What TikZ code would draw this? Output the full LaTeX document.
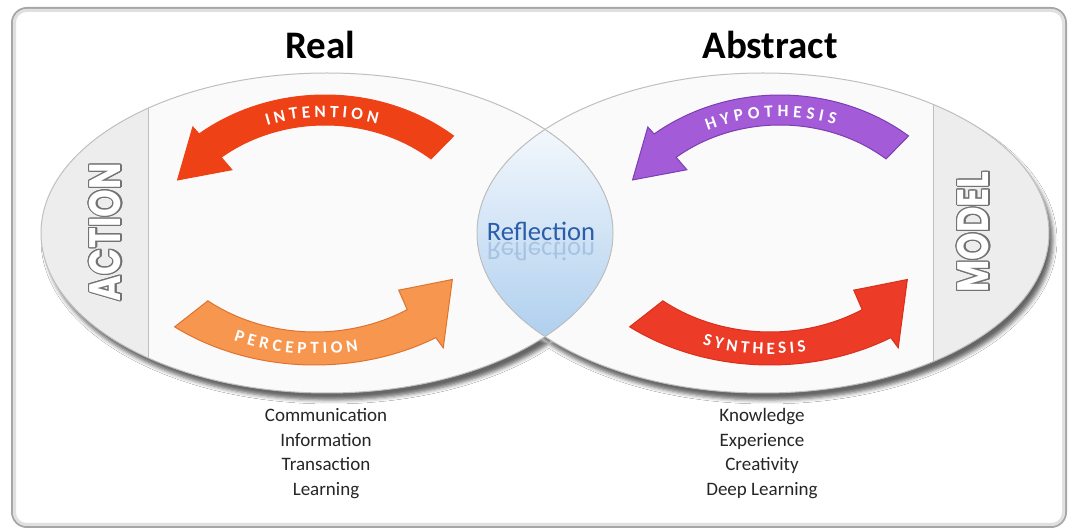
\documentclass[tikz,border=0pt]{standalone}
\usepackage{fontspec}
\setmainfont{Carlito}
\setsansfont{Carlito}
\newfontfamily\geofont{Poppins}
\usepackage[copies]{contour}
\usepackage{tikz}
\usetikzlibrary{decorations.text,shadows.blur}

\definecolor{intentred}{HTML}{EE4216}
\definecolor{hypopurple}{HTML}{A35BD8}
\definecolor{hypoedge}{HTML}{7D3DB3}
\definecolor{percorange}{HTML}{F7974F}
\definecolor{percedge}{HTML}{DE7330}
\definecolor{synthred}{HTML}{EC3B26}
\definecolor{synthedge}{HTML}{D9301E}
\definecolor{reflblue}{HTML}{2B5DA8}
\definecolor{lenstop}{HTML}{F4F8FD}
\definecolor{lensblue}{HTML}{AECFEE}
\definecolor{lobefill}{HTML}{FAFAFA}
\definecolor{bandgray}{HTML}{EDEDED}

\newcommand\arrowlabelfont{\fontsize{8.6}{10}\selectfont\bfseries}
\contourlength{0.65pt}

\begin{document}
\begin{tikzpicture}[
  x=0.5pt, y=0.5pt,
  panel/.style={draw=black!35, line width=1pt, rounded corners=7.5pt, fill=white},
  lobeline/.style={draw=black!25, line width=0.5pt},
  heading/.style={font=\fontsize{19.5}{20}\selectfont\bfseries, text=black},
  sidelabel/.style={rotate=90, xscale=.8, text=white, font=\geofont\bfseries\fontsize{22}{22}\selectfont},
  listing/.style={align=center, font=\fontsize{9.5}{12.25}\selectfont, text=black!85},
  refltext/.style={text=reflblue, font=\fontsize{13.3}{14}\selectfont, anchor=base, inner sep=0pt},
  bigarrow/.style={line width=0.5pt, line join=miter},
  arrowtext/.style={decorate, decoration={text along path, text align={fit to path}, text color=white, text={#1}}}
]
\useasboundingbox (0,0) rectangle (1073,531);

% outer panel
\draw[panel] (12,4) rectangle (1066,523);
\draw[black!12, line width=1.5pt, rounded corners=6pt] (14.5,6.5) rectangle (1063.5,520.5);

% the two lobes, shadow first so the fills cover it
\path[blur shadow={shadow xshift=2pt, shadow yshift=-3.5pt, shadow blur radius=2pt, shadow opacity=60}]
  (327,298) ellipse [x radius=286, y radius=160]
  (763,298) ellipse [x radius=286, y radius=160];
\fill[lobefill] (327,298) ellipse [x radius=286, y radius=160];
\fill[lobefill] (763,298) ellipse [x radius=286, y radius=160];

% grey side bands
\begin{scope}
  \clip (327,298) ellipse [x radius=286, y radius=160];
  \fill[bandgray] (0,0) rectangle (148,531);
  \draw[lobeline] (148,0) -- (148,531);
\end{scope}
\begin{scope}
  \clip (763,298) ellipse [x radius=286, y radius=160];
  \fill[bandgray] (933,0) rectangle (1073,531);
  \draw[lobeline] (933,0) -- (933,531);
\end{scope}

% overlap of the lobes
\begin{scope}
  \clip (327,298) ellipse [x radius=286, y radius=160];
  \clip (763,298) ellipse [x radius=286, y radius=160];
  \fill[top color=lenstop, bottom color=lensblue] (470,190) rectangle (615,406);
\end{scope}
\draw[lobeline] (327,298) ellipse [x radius=286, y radius=160];
\draw[lobeline] (763,298) ellipse [x radius=286, y radius=160];

% upper arrows
\begin{scope}[shift={(325,261)}]
  \filldraw[bigarrow, fill=intentred, draw=intentred]
    (50:200 and 175) arc[start angle=50, end angle=129, x radius=200, y radius=175]
    -- (129:210 and 184) -- (145:180 and 157) -- (129:148 and 129)
    -- (129:165 and 145) arc[start angle=129, end angle=50, x radius=165, y radius=145] -- cycle;
  \path[arrowtext={|\arrowlabelfont|INTENTION}]
    (109:178 and 153) arc[start angle=109, end angle=73, x radius=178, y radius=153];
\end{scope}
\begin{scope}[shift={(780,261)}]
  \filldraw[bigarrow, fill=hypopurple, draw=hypoedge]
    (50:200 and 175) arc[start angle=50, end angle=129, x radius=200, y radius=175]
    -- (129:210 and 184) -- (145:180 and 157) -- (129:148 and 129)
    -- (129:165 and 145) arc[start angle=129, end angle=50, x radius=165, y radius=145] -- cycle;
  \path[arrowtext={|\arrowlabelfont|HYPOTHESIS}]
    (114:178 and 153) arc[start angle=114, end angle=72, x radius=178, y radius=153];
\end{scope}

% lower arrows
\begin{scope}[shift={(315,346)}]
  \filldraw[bigarrow, fill=percorange, draw=percedge]
    (232:228 and 180) arc[start angle=232, end angle=302, x radius=228, y radius=180]
    -- (302:242 and 192) -- (319:182 and 144) -- (302:158 and 124)
    -- (302:174 and 147) arc[start angle=302, end angle=232, x radius=174, y radius=147] -- cycle;
  \path[arrowtext={|\arrowlabelfont|PERCEPTION}]
    (247:208 and 169) arc[start angle=247, end angle=282, x radius=208, y radius=169];
\end{scope}
\begin{scope}[shift={(770,346)}]
  \filldraw[bigarrow, fill=synthred, draw=synthedge]
    (232:228 and 180) arc[start angle=232, end angle=302, x radius=228, y radius=180]
    -- (302:242 and 192) -- (319:182 and 144) -- (302:158 and 124)
    -- (302:174 and 147) arc[start angle=302, end angle=232, x radius=174, y radius=147] -- cycle;
  \path[arrowtext={|\arrowlabelfont|SYNTHESIS}]
    (251:208 and 169) arc[start angle=251, end angle=280, x radius=208, y radius=169];
\end{scope}

% side labels
\node[sidelabel] (action) at (106,299) {\contour{black!55}{ACTION}};
\node[sidelabel] (model) at (974,299) {\contour{black!55}{MODEL}};

% centre
\node[refltext] (refl) at (541,290) {Reflection};
\node[refltext, opacity=.22, yscale=-1] (reflecho) at (541,288) {Reflection};

% headings
\node[heading] (real) at (320,486) {Real};
\node[heading] (abstract) at (770,486) {Abstract};

% lists under the lobes
\node[listing] (reallist) at (326,77.5) {Communication\\Information\\Transaction\\Learning};
\node[listing] (abstractlist) at (762,77.5) {Knowledge\\Experience\\Creativity\\Deep Learning};
\end{tikzpicture}
\end{document}
